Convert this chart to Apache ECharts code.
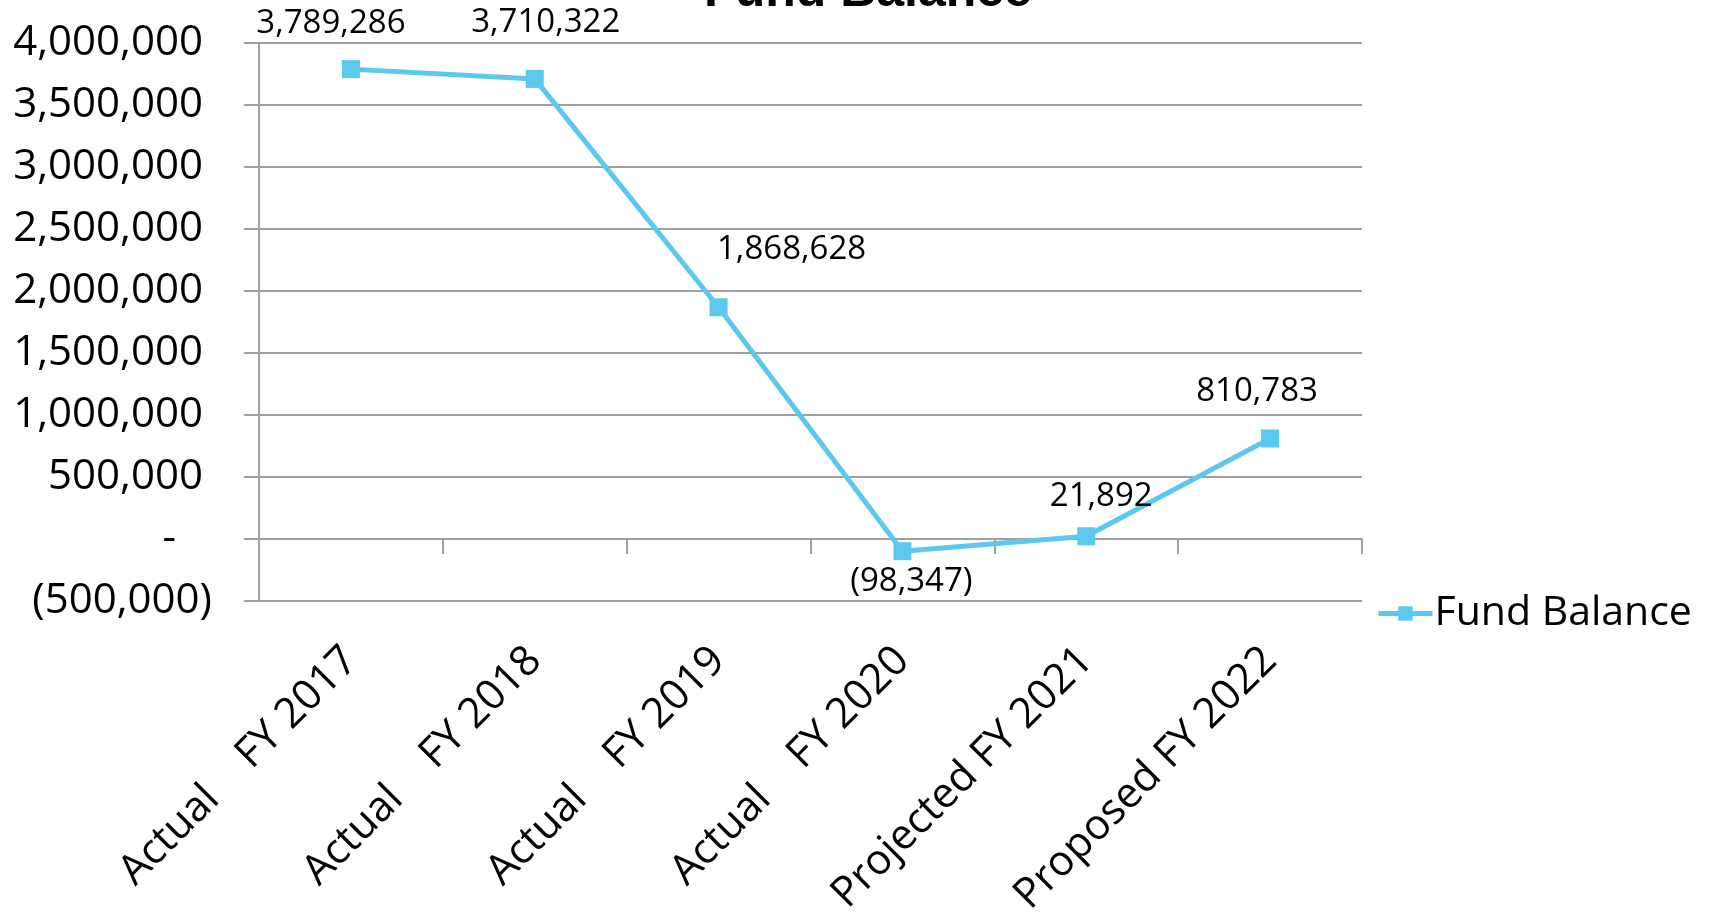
<!DOCTYPE html>
<html>
<head>
<meta charset="utf-8">
<script src="https://cdn.jsdelivr.net/npm/echarts@6/dist/echarts.min.js"></script>
<style>
html,body{margin:0;padding:0;background:#fff;}
#chart{width:1717px;height:912px;}
</style>
</head>
<body>
<div id="chart"></div>
<script>
const titleText = 'Fund Balance';
const seriesName = 'Fund Balance';
const categories = ['Actual    FY 2017', 'Actual    FY 2018', 'Actual    FY 2019', 'Actual    FY 2020', 'Projected FY 2021', 'Proposed FY 2022'];
const fundBalance = [3789286, 3710322, 1868628, -98347, 21892, 810783];
const yTicks = { min: -500000, max: 4000000, interval: 500000 };

// label offsets (style only)
const labelOffsets = [[-20, -46], [11, -56], [73, -58], [9, 30], [15, -40], [-13, -47]];

function fmt(v) {
  const s = Math.abs(v).toLocaleString('en-US');
  if (v < 0) return '(' + s + ')';
  if (v === 0) return '-';
  return s;
}

const chart = echarts.init(document.getElementById('chart'));
const FONT = '"Open Sans", sans-serif';
const GRID = '#a0a0a0';
const LINE = '#5BC8F0';

chart.setOption({
  animation: false,
  title: {
    text: titleText,
    left: 863,
    textAlign: 'center',
    top: -38,
    textStyle: { fontFamily: '"Liberation Sans", Arial, sans-serif', fontWeight: 'bold', fontSize: 50, color: '#000' }
  },
  legend: {
    data: [seriesName],
    left: 1371,
    top: 588,
    itemWidth: 54,
    itemHeight: 18,
    itemGap: 6,
    lineStyle: { width: 5 },
    textStyle: { fontFamily: FONT, fontSize: 41, color: '#000', padding: [0, 0, 0, -3] }
  },
  grid: { left: 259, right: 355, top: 43, bottom: 311, containLabel: false, outerBoundsMode: 'none' },
  xAxis: {
    type: 'category',
    data: categories,
    boundaryGap: true,
    axisLine: { show: true, onZero: true, lineStyle: { color: GRID, width: 2 } },
    axisTick: { show: true, length: 15, lineStyle: { color: GRID, width: 2 } },
    axisLabel: { rotate: 45, margin: 53, fontFamily: FONT, fontSize: 42, color: '#000', interval: 0 },
    splitLine: { show: false }
  },
  yAxis: {
    type: 'value',
    min: yTicks.min,
    max: yTicks.max,
    interval: yTicks.interval,
    axisLine: { show: true, lineStyle: { color: GRID, width: 2 } },
    axisTick: { show: true, length: 15, lineStyle: { color: GRID, width: 2 } },
    splitLine: { show: true, lineStyle: { color: GRID, width: 2 } },
    axisLabel: {
      margin: 47,
      fontFamily: FONT, fontSize: 42, color: '#000',
      formatter: function (v) {
        if (v < 0) return '{n|' + fmt(v) + '}';
        if (v === 0) return '{z|-}';
        return '{p|' + fmt(v) + '}';
      },
      rich: {
        n: { fontFamily: FONT, fontSize: 42, color: '#000' },
        p: { fontFamily: FONT, fontSize: 42, color: '#000', padding: [0, 9, 0, 0] },
        z: { fontFamily: FONT, fontSize: 42, color: '#000', padding: [0, 36, 0, 0] }
      }
    }
  },
  series: [{
    name: seriesName,
    type: 'line',
    data: fundBalance.map((v, i) => ({
      value: v,
      label: { offset: labelOffsets[i] }
    })),
    symbol: 'rect',
    symbolSize: 18,
    lineStyle: { color: LINE, width: 5 },
    itemStyle: { color: LINE },
    label: {
      show: true,
      position: 'inside',
      fontFamily: FONT,
      fontSize: 33,
      color: '#000',
      formatter: p => fmt(p.value)
    }
  }]
});
</script>
</body>
</html>
